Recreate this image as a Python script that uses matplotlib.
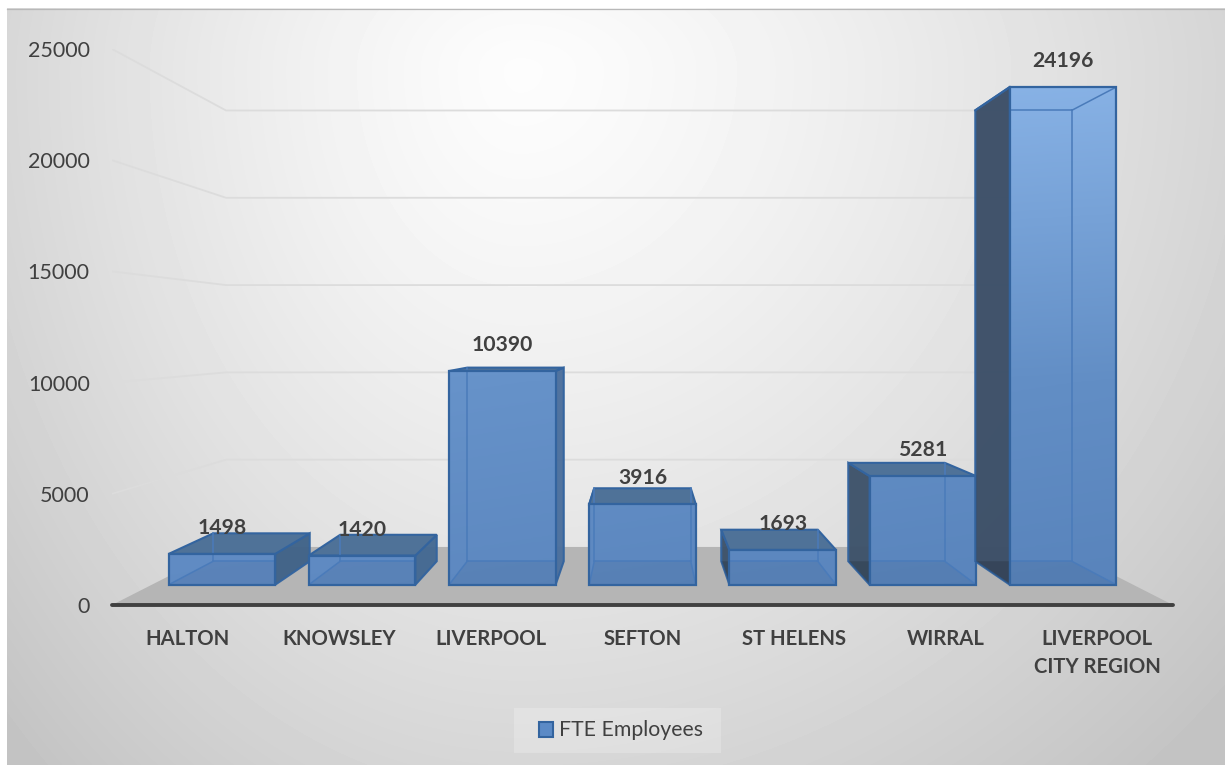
import numpy as np
import matplotlib
matplotlib.use('Agg')
import matplotlib.pyplot as plt
from matplotlib.lines import Line2D
from matplotlib.patches import Patch, Polygon, Rectangle

categories = ['HALTON', 'KNOWSLEY', 'LIVERPOOL', 'SEFTON', 'ST HELENS', 'WIRRAL', 'LIVERPOOL\nCITY REGION']
fte_employees = [1498, 1420, 10390, 3916, 1693, 5281, 24196]
y_ticks = [0, 5000, 10000, 15000, 20000, 25000]
series_name = 'FTE Employees'

W, H = 1225, 765
TEXT = '#404040'

# depth of each plane, 1 = the plane of the axis, smaller = further back
D_BAR_FRONT = 0.925
D_BAR_BACK = 0.838
D_WALL = 0.785
VANISH_X, VANISH_Y = 3, 12140  # vanishing point in data units
BAR_W = 0.76

plt.rcParams['font.family'] = ['Lato', 'DejaVu Sans']


def project(x, v, d):
    # pull a point of the axis plane back towards the vanishing point
    return VANISH_X + (x - VANISH_X) * d, VANISH_Y + (v - VANISH_Y) * d


def corners(i, v, d):
    left = project(i - BAR_W / 2, v, d)
    right = project(i + BAR_W / 2, v, d)
    return left, right


fig = plt.figure(figsize=(W / 100, H / 100), dpi=100, facecolor='white')

# slide background
bg = fig.add_axes([7 / W, 0, (W - 7) / W, (H - 8) / H])
yy, xx = np.mgrid[8:765, 7:1225]
dx = (xx - 520) / np.where(xx < 520, 680, 900)
dy = (yy - 70) / np.where(yy < 70, 500, 900)
r = np.sqrt(dx ** 2 + dy ** 2)
bg.imshow(0.99 - 0.21 * np.clip(r, 0, 1.05) ** 1.3, cmap='gray', vmin=0, vmax=1, aspect='auto')
bg.axis('off')
fig.add_artist(Line2D([7 / W, 1], [(H - 9) / H, (H - 9) / H], color='#b8b8b8', lw=0.9))

ax = fig.add_axes([112 / W, (H - 605) / H, (1173 - 112) / W, (605 - 49) / H])
ax.patch.set_alpha(0)

# floor
fl, fr = project(-0.5, 0, 1), project(6.5, 0, 1)
bl, br = project(-0.5, 0, D_WALL), project(6.5, 0, D_WALL)
ax.add_patch(Polygon([fl, fr, br, bl], facecolor='#b5b5b5', edgecolor='none', zorder=1))

# gridlines on wall and left side
for t in y_ticks[1:]:
    p0 = project(-0.5, t, 1)
    p1 = project(-0.5, t, D_WALL)
    p2 = project(6.5, t, D_WALL)
    ax.plot([p0[0], p1[0], p2[0]], [p0[1], p1[1], p2[1]], color='#dcdcdc', lw=1.3, zorder=1.5,
            solid_joinstyle='miter')

side_colors = ['#3f6288', '#436892', '#4a6e9c', '#5a84ba', '#3c5169', '#3c5169', '#3a4d66']
EDGE = '#33649f'
INNER = '#4a7bba'

# colour of the front faces, lighter near the top
gy, gx = np.mgrid[0:1:200j, 0:1:200j]
shade = np.zeros((200, 200, 3))
top_col = np.array([0x93, 0xbd, 0xf0]) / 255
mid_col = np.array([0x69, 0x95, 0xcc]) / 255
low_col = np.array([0x60, 0x8b, 0xc3]) / 255
for c in range(3):
    shade[:, :, c] = np.interp(gy, [0, 0.62, 1], [top_col[c], mid_col[c], low_col[c]]) - 0.03 * gx

for i, v in enumerate(fte_employees):
    z = 2 + i
    fb_l, fb_r = corners(i, 0, D_BAR_FRONT)
    ft_l, ft_r = corners(i, v, D_BAR_FRONT)
    bb_l, bb_r = corners(i, 0, D_BAR_BACK)
    bt_l, bt_r = corners(i, v, D_BAR_BACK)

    # side face seen from the centre of the chart
    if i < VANISH_X:
        side = [fb_r, ft_r, bt_r, bb_r]
    else:
        side = [fb_l, ft_l, bt_l, bb_l]
    ax.add_patch(Polygon(side, facecolor=side_colors[i], edgecolor=EDGE, lw=1.5, alpha=0.96, zorder=z))

    # bar floor showing through the dark side
    if i > VANISH_X:
        ax.add_patch(Polygon([bb_l, fb_l, (fb_l[0], bb_l[1])], facecolor='black', alpha=0.14,
                             edgecolor='none', zorder=z + 0.05))

    # top face
    if v < VANISH_Y:
        ax.add_patch(Polygon([ft_l, ft_r, bt_r, bt_l], facecolor='#4f7298', edgecolor=EDGE, lw=1.5, zorder=z + 0.1))
    else:
        ax.plot([ft_l[0], bt_l[0]], [ft_l[1], bt_l[1]], color=EDGE, lw=1.5, zorder=z + 0.1)

    # front face
    x_front = project(i, 0, D_BAR_FRONT)[0]
    bar = ax.bar(x_front, v * D_BAR_FRONT, width=BAR_W * D_BAR_FRONT, bottom=fb_l[1],
                 facecolor='none', edgecolor=EDGE, lw=1.6, zorder=z + 0.4)[0]
    im = ax.imshow(shade, extent=(-0.5, 6.5, project(0, 0, D_BAR_FRONT)[1], 25000), aspect='auto', zorder=z + 0.2)
    im.set_clip_path(bar)

    # floor of the bar seen through the front
    floor = Polygon([fb_l, fb_r, bb_r, bb_l], facecolor='black', alpha=0.05, edgecolor='none', zorder=z + 0.3)
    ax.add_patch(floor)
    floor.set_clip_path(bar)

    # edges seen through the front face only
    for a, b in [(bb_l, bb_r), (fb_l, bb_l), (fb_r, bb_r), (bt_l, bt_r), (ft_l, bt_l), (ft_r, bt_r)]:
        ln, = ax.plot([a[0], b[0]], [a[1], b[1]], color=INNER, lw=1.1, zorder=z + 0.35)
        ln.set_clip_path(bar)

    # far vertical edges, these also run up through the top face
    far = []
    if i <= VANISH_X:
        far.append((bb_l, bt_l))
    if i >= VANISH_X:
        far.append((bb_r, bt_r))
    for a, b in far:
        ax.plot([a[0], b[0]], [a[1], b[1]], color=INNER, lw=1.1, zorder=z + 0.35)

    ax.annotate(str(v), (x_front, ft_l[1]), xytext=(0, 26), textcoords='offset pixels',
                ha='center', va='center', fontsize=15.2, fontweight='bold', color=TEXT, zorder=20)

ax.set_xlim(-0.5, 6.5)
ax.set_ylim(0, 25000)
ax.set_xticks(range(len(categories)))
ax.set_xticklabels(categories, fontsize=14.6, fontweight='bold', color=TEXT, linespacing=1.5)
ax.set_yticks(y_ticks)
ax.set_yticklabels([str(t) for t in y_ticks], fontsize=15.5, color=TEXT)
ax.tick_params(axis='x', length=0, pad=17)
ax.tick_params(axis='y', length=0, pad=16)
for s in ['top', 'left', 'right']:
    ax.spines[s].set_visible(False)
ax.spines['bottom'].set_linewidth(2.8)
ax.spines['bottom'].set_color('#404040')
ax.spines['bottom'].set_capstyle('round')
ax.spines['bottom'].set_zorder(30)

# legend box is wider on the left than the legend needs, so it is drawn apart
ax.add_patch(Rectangle((514 / W, (H - 753) / H), 207 / W, 45 / H, transform=fig.transFigure,
                       facecolor='white', alpha=0.22, edgecolor='none', clip_on=False, zorder=0.5))
ax.legend(handles=[Patch(facecolor='#5b8ac6', edgecolor=EDGE, lw=1.5, label=series_name)],
          loc='center', bbox_to_anchor=(621 / W, (H - 730.5) / H), bbox_transform=fig.transFigure,
          fontsize=15.3, frameon=False, handlelength=0.66, handleheight=0.7, handletextpad=0.32,
          borderpad=0, labelcolor=TEXT, borderaxespad=0)

fig.savefig('out.png', dpi=100)
